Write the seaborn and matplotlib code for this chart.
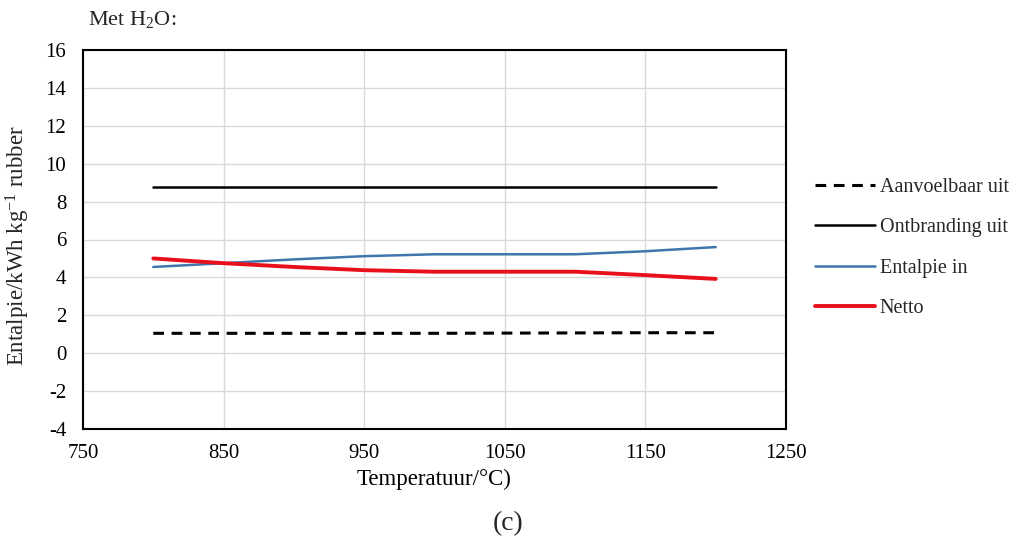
import numpy as np
import pandas as pd
import matplotlib
matplotlib.use("Agg")
import matplotlib.pyplot as plt
import seaborn as sns

temperature = [800, 850, 900, 950, 1000, 1050, 1100, 1150, 1200]
aanvoelbaar_uit = [1.05, 1.05, 1.05, 1.05, 1.05, 1.06, 1.07, 1.08, 1.08]
ontbranding_uit = [8.75, 8.75, 8.75, 8.75, 8.75, 8.75, 8.75, 8.75, 8.75]
entalpie_in = [4.55, 4.75, 4.95, 5.12, 5.22, 5.22, 5.22, 5.38, 5.60]
netto = [5.00, 4.75, 4.55, 4.38, 4.30, 4.30, 4.30, 4.12, 3.92]

series_names = ["Aanvoelbaar uit", "Ontbranding uit", "Entalpie in", "Netto"]
x_ticks = [750, 850, 950, 1050, 1150, 1250]
y_ticks = [-4, -2, 0, 2, 4, 6, 8, 10, 12, 14, 16]

sns.set_theme(style="white")
plt.rcParams["font.family"] = ["Liberation Serif", "DejaVu Serif"]
plt.rcParams["mathtext.fontset"] = "custom"
plt.rcParams["mathtext.rm"] = "Liberation Serif"
plt.rcParams["mathtext.it"] = "Liberation Serif:italic"

fig = plt.figure(figsize=(10.15, 5.44), dpi=100)
ax = fig.add_axes([83 / 1015, 1 - 429 / 544, (786 - 83) / 1015, (429 - 50) / 544])

styles = [
    dict(color="black", linestyle=(0, (3.5, 2.5)), linewidth=2.2),
    dict(color="black", linestyle="-", linewidth=1.8),
    dict(color="#3f77ad", linestyle="-", linewidth=1.8),
    dict(color="#e8111b", linestyle="-", linewidth=2.8),
]
data = [aanvoelbaar_uit, ontbranding_uit, entalpie_in, netto]
for name, vals, st in zip(series_names, data, styles):
    df = pd.DataFrame({"T": temperature, "H": vals})
    sns.lineplot(data=df, x="T", y="H", ax=ax, label=name, **st)

ax.set_xlim(750, 1250)
ax.set_ylim(-4, 16)
ax.set_xticks(x_ticks)
ax.set_yticks(y_ticks)
ax.set_xticklabels([str(t) for t in x_ticks])
ax.set_yticklabels([str(t) for t in y_ticks])
ax.grid(True, color="#d9d9d9", linewidth=1.0)
for s in ax.spines.values():
    s.set_color("black")
    s.set_linewidth(1.5)
ax.tick_params(axis="y", length=0, labelsize=15, colors="black", pad=12)
ax.tick_params(axis="x", length=0, labelsize=15, colors="black", pad=11)

ax.set_xlabel("Temperatuur/°C)", fontsize=16.5, color="black", labelpad=4)
ax.set_ylabel("")
fig.text(18 / 1015, 1 - 246 / 544, "Entalpie/kWh kg$^{-1}$ rubber", fontsize=16.5,
         rotation=90, ha="center", va="center")

fig.text(88 / 1015, 1 - 20 / 544, "Met H$_2$O:", fontsize=16, va="center", ha="left")
fig.text(508 / 1015, 1 - 524 / 544, "(c)", fontsize=20, va="center", ha="center")

ax.legend(loc="center left", bbox_to_anchor=(807 / 1015, 1 - 248 / 544),
          bbox_transform=fig.transFigure, frameon=False, fontsize=14.5,
          handlelength=3.0, handletextpad=0.2, labelspacing=1.05, borderaxespad=0)

fig.savefig("out.png", dpi=100)
